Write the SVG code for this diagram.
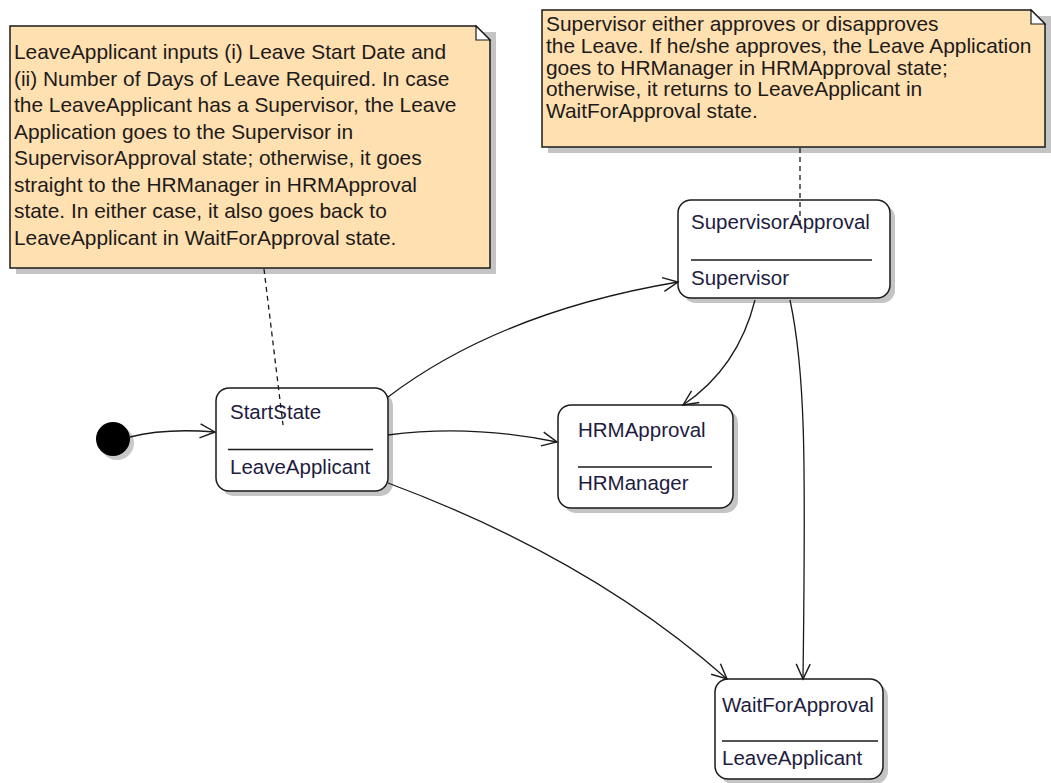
<svg xmlns="http://www.w3.org/2000/svg" width="1051" height="783" viewBox="0 0 1051 783">
  <style>
    .note { fill: #ffe0b0; stroke: #1a1a1a; stroke-width: 1.5; }
    .fold { fill: #ffffff; stroke: #1a1a1a; stroke-width: 1.2; }
    .shadow { fill: #c4c4c4; }
    .state { fill: #ffffff; stroke: #1a1a1a; stroke-width: 1.5; }
    .divider { stroke: #1a1a1a; stroke-width: 1.5; }
    .ntext { font-family: "Liberation Sans", Arial, sans-serif; font-size: 20.9px; fill: #1e1a1a; }
    .stext { font-family: "Liberation Sans", Arial, sans-serif; font-size: 20.5px; fill: #1e1c40; }
    .edge { fill: none; stroke: #1a1a1a; stroke-width: 1.3; }
    .anchor { fill: none; stroke: #1a1a1a; stroke-width: 1.3; stroke-dasharray: 5 4; }
  </style>
  <defs>
    <marker id="open" markerUnits="userSpaceOnUse" markerWidth="20" markerHeight="20" viewBox="-16 -10 20 20" refX="0" refY="0" orient="auto">
      <path d="M-15,-7 L0,0 L-15,7" fill="none" stroke="#1a1a1a" stroke-width="1.4"/>
    </marker>
  </defs>

  <rect width="1051" height="783" fill="#ffffff"/>

  <!-- note attached to StartState -->
  <g id="note-start">
    <rect class="shadow" x="16" y="32" width="480" height="242"/>
    <path class="note" d="M10,26 H476 L490,40 V268 H10 Z"/>
    <path class="fold" d="M476,26 L490,40 H476 Z"/>
    <text class="ntext" x="14" y="59">LeaveApplicant inputs (i) Leave Start Date and</text>
    <text class="ntext" x="14" y="85.5">(ii) Number of Days of Leave Required. In case</text>
    <text class="ntext" x="14" y="112">the LeaveApplicant has a Supervisor, the Leave</text>
    <text class="ntext" x="14" y="138.5">Application goes to the Supervisor in</text>
    <text class="ntext" x="14" y="165">SupervisorApproval state; otherwise, it goes</text>
    <text class="ntext" x="14" y="191.5">straight to the HRManager in HRMApproval</text>
    <text class="ntext" x="14" y="218">state. In either case, it also goes back to</text>
    <text class="ntext" x="14" y="244.5">LeaveApplicant in WaitForApproval state.</text>
  </g>

  <!-- note attached to SupervisorApproval -->
  <g id="note-supervisor">
    <rect class="shadow" x="548" y="16" width="503" height="137"/>
    <path class="note" d="M542,10 H1031 L1045,24 V147 H542 Z"/>
    <path class="fold" d="M1031,10 L1045,24 H1031 Z"/>
    <text class="ntext" x="546" y="31">Supervisor either approves or disapproves</text>
    <text class="ntext" x="546" y="53">the Leave. If he/she approves, the Leave Application</text>
    <text class="ntext" x="546" y="74.5">goes to HRManager in HRMApproval state;</text>
    <text class="ntext" x="546" y="96">otherwise, it returns to LeaveApplicant in</text>
    <text class="ntext" x="546" y="118">WaitForApproval state.</text>
  </g>

  <!-- initial pseudo-state -->
  <g id="initial">
    <circle cx="117" cy="443" r="17" fill="#c8c8c8"/>
    <circle cx="113" cy="439" r="17" fill="#000000"/>
  </g>

  <g id="StartState">
    <rect class="shadow" x="221" y="393" width="172" height="103" rx="13"/>
    <rect class="state" x="216" y="388" width="172" height="103" rx="13"/>
    <text class="stext" x="230" y="419">StartState</text>
    <line class="divider" x1="228" y1="449.5" x2="373" y2="449.5"/>
    <text class="stext" x="230" y="474">LeaveApplicant</text>
  </g>

  <g id="HRMApproval">
    <rect class="shadow" x="563" y="410" width="175" height="103" rx="13"/>
    <rect class="state" x="558" y="405" width="175" height="103" rx="13"/>
    <text class="stext" x="578" y="437">HRMApproval</text>
    <line class="divider" x1="578" y1="467" x2="712" y2="467"/>
    <text class="stext" x="578" y="490">HRManager</text>
  </g>

  <g id="SupervisorApproval">
    <rect class="shadow" x="683" y="205" width="212" height="98" rx="13"/>
    <rect class="state" x="678" y="200" width="212" height="98" rx="13"/>
    <text class="stext" x="691" y="229">SupervisorApproval</text>
    <line class="divider" x1="691" y1="260" x2="872" y2="260"/>
    <text class="stext" x="691" y="285">Supervisor</text>
  </g>

  <g id="WaitForApproval">
    <rect class="shadow" x="720" y="684" width="168" height="100" rx="13"/>
    <rect class="state" x="715" y="679" width="168" height="100" rx="13"/>
    <text class="stext" x="722" y="712">WaitForApproval</text>
    <line class="divider" x1="722" y1="741" x2="878" y2="741"/>
    <text class="stext" x="722" y="765">LeaveApplicant</text>
  </g>

  <g id="connectors">
    <!-- note anchors -->
    <path class="anchor" d="M264,269 L283,425"/>
    <path class="anchor" d="M800,148 L800,226"/>
    <!-- transitions -->
    <path class="edge" marker-end="url(#open)" d="M130,437 Q165,428 215,432"/>
    <path class="edge" marker-end="url(#open)" d="M388,397 Q500,312 678,282"/>
    <path class="edge" marker-end="url(#open)" d="M388,435 Q470,424 557,442"/>
    <path class="edge" marker-end="url(#open)" d="M388,483 Q592,559 727,679"/>
    <path class="edge" marker-end="url(#open)" d="M755,300 Q738,368 683,405"/>
    <path class="edge" marker-end="url(#open)" d="M790,300 C805,370 806,450 803,679"/>
  </g>
</svg>
